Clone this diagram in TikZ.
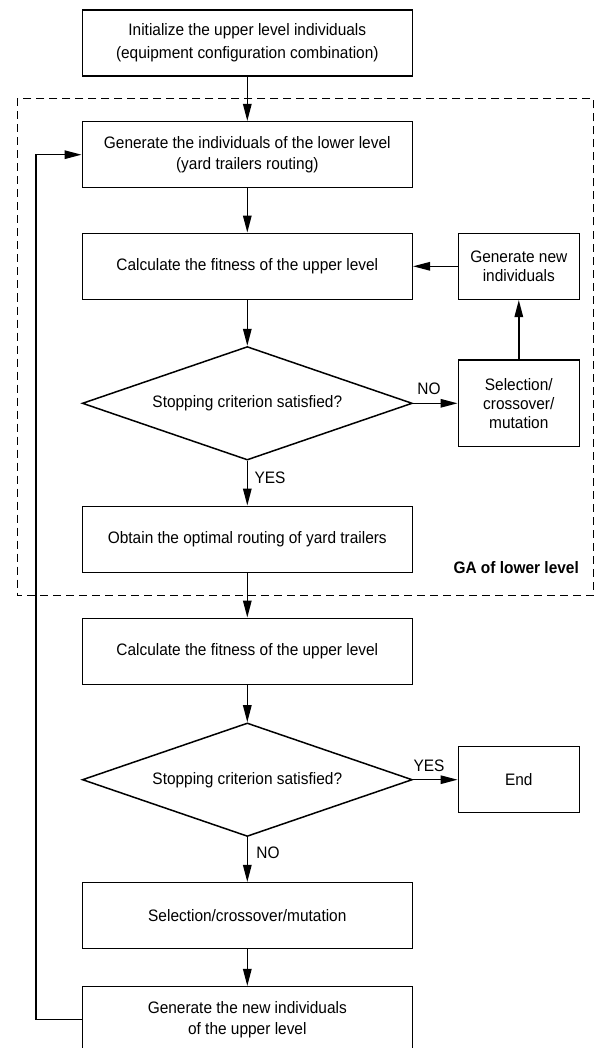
\documentclass[tikz,border=0pt]{standalone}
\usepackage{fontspec}
\setmainfont[FakeStretch=0.93]{Liberation Sans}
\usetikzlibrary{shapes.geometric,arrows.meta}
\tikzset{
  every node/.style={font=\fontsize{16.6}{21.7}\selectfont},
  box/.style={draw, line width=1.5pt, minimum width=330pt, minimum height=66pt, align=center, inner sep=0pt},
  sidebox/.style={draw, line width=1.5pt, minimum width=121pt, minimum height=66pt, align=center, inner sep=0pt, font=\fontsize{16.6}{19}\selectfont},
  dec/.style={draw, diamond, aspect=2.9, line width=1.5pt, minimum width=330pt, minimum height=113.5pt, inner sep=0pt},
  arr/.style={line width=1.4pt, -{Triangle[length=17pt,width=8.5pt]}},
  frame/.style={line width=1.1pt, dash pattern=on 8pt off 5pt},
  lbl/.style={inner sep=0pt}
}
\begin{document}
\begin{tikzpicture}[x=1pt,y=-1pt]
\useasboundingbox (0,0) rectangle (601,1048);
\draw[frame] (17.3,98.5) rectangle (593.3,595.5);

\node[box, font=\fontsize{16.6}{23.3}\selectfont] (b1) at (247.3,43) {Initialize the upper level individuals\\(equipment configuration combination)};
\node[box] (b2) at (247.3,154.7) {Generate the individuals of the lower level\\(yard trailers routing)};
\node[box] (b3) at (247.3,266.3) {Calculate the fitness of the upper level};
\node[dec] (d1) at (247.3,403.3) {Stopping criterion satisfied?};
\node[box] (b4) at (247.3,539.3) {Obtain the optimal routing of yard trailers};
\node[box] (b5) at (247.3,651.3) {Calculate the fitness of the upper level};
\node[dec] (d2) at (247.3,779.7) {Stopping criterion satisfied?};
\node[box, minimum height=65.6pt] (b6) at (247.3,915.5) {Selection/crossover/mutation};
\node[box] (b7) at (247.3,1019.7) {Generate the new individuals\\of the upper level};

\node[sidebox] (gn) at (518.8,266.3) {Generate new\\individuals};
\node[sidebox, minimum height=86.7pt] (sel) at (518.8,403.3) {Selection/\\crossover/\\mutation};
\node[sidebox] (end) at (518.8,779.7) {End};

\node[anchor=base east, inner sep=0pt, font=\bfseries\fontsize{16.6}{19}\selectfont] (ga) at (579,573) {GA of lower level};

\node[lbl] (no1) at (429,389) {NO};
\node[lbl] (yes1) at (270,477.7) {YES};
\node[lbl] (yes2) at (429,765.7) {YES};
\node[lbl] (no2) at (268,853) {NO};

\coordinate (loopbot) at (36,1019.7);

\draw[arr] (b1) -- (b2);
\draw[arr] (b2) -- (b3);
\draw[arr] (b3) -- (d1.north);
\draw[arr] (d1.south) -- (b4);
\draw[arr] (b4) -- (b5);
\draw[arr] (b5) -- (d2.north);
\draw[arr] (d2.south) -- (b6);
\draw[arr] (b6) -- (b7);
\draw[arr] (d1.east) -- (sel.west);
\draw[arr] (sel) -- (gn);
\draw[arr] (gn) -- (b3.east);
\draw[arr] (d2.east) -- (end.west);
\draw[arr] (b7.west) -- (loopbot) |- (b2.west);
\end{tikzpicture}
\end{document}
